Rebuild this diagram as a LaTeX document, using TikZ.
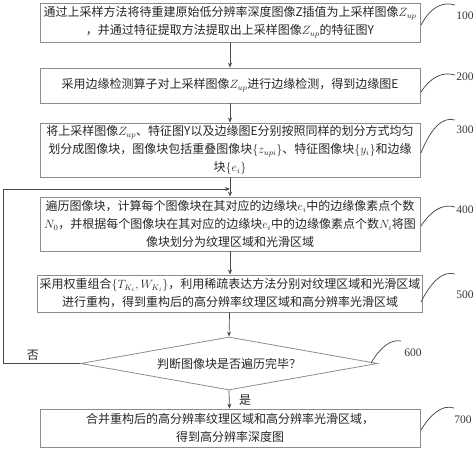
\documentclass[tikz,border=0pt]{standalone}
\usepackage{fontspec}
\setmainfont{Noto Sans CJK SC}
\newfontfamily\numfont{Liberation Serif}
\usetikzlibrary{shapes.geometric,arrows.meta}
\definecolor{boxgray}{HTML}{8C8C8C}
\definecolor{linegray}{HTML}{4A4A4A}
\begin{document}
\begin{tikzpicture}[x=1pt,y=-1pt,
  stepbox/.style={rectangle, draw=boxgray, line width=0.8pt, minimum width=380pt, inner sep=2pt, align=center, font=\fontsize{12}{18}\selectfont, text=black!85},
  judge/.style={diamond, draw=boxgray, line width=0.8pt, minimum width=297pt, minimum height=53pt, inner sep=0pt, aspect=5.6, font=\fontsize{12}{18}\selectfont, text=black!85},
  flow/.style={draw=linegray, line width=0.7pt, -{Stealth[length=5pt,width=4pt]}},
  leader/.style={draw=black!75, line width=0.7pt},
  num/.style={font=\numfont\fontsize{11.5}{13}\selectfont, text=black!80}]
\useasboundingbox (0,0) rectangle (474,449);
\node[stepbox, minimum height=39pt] (s100) at (230,22.5){通过上采样方法将待重建原始低分辨率深度图像Z插值为上采样图像$Z_{up}$\\，并通过特征提取方法提取出上采样图像$Z_{up}$的特征图Y};
\node[stepbox, minimum height=35pt] (s200) at (230,85.5){采用边缘检测算子对上采样图像$Z_{up}$进行边缘检测，得到边缘图E};
\node[stepbox, minimum height=54pt] (s300) at (230,150){将上采样图像$Z_{up}$、特征图Y以及边缘图E分别按照同样的划分方式均匀\\划分成图像块，图像块包括重叠图像块$\{z_{upi}\}$、特征图像块$\{y_i\}$和边缘\\块$\{e_i\}$};
\node[stepbox, minimum height=54pt] (s400) at (230,224){遍历图像块，计算每个图像块在其对应的边缘块$e_i$中的边缘像素点个数\\$N_0$，并根据每个图像块在其对应的边缘块$e_i$中的边缘像素点个数$N_i$将图\\像块划分为纹理区域和光滑区域};
\node[stepbox, minimum height=37pt] (s500) at (230,293.5){采用权重组合$\{T_{K_i},W_{K_i}\}$，利用稀疏表达方法分别对纹理区域和光滑区域\\进行重构，得到重构后的高分辨率纹理区域和高分辨率光滑区域};
\node[judge] (s600) at (229,363.5){判断图像块是否遍历完毕？};
\node[stepbox, minimum height=38pt] (s700) at (230,428){合并重构后的高分辨率纹理区域和高分辨率光滑区域，\\得到高分辨率深度图};
\coordinate (back) at (230,189);
\draw[flow] (s100) -- (s200);
\draw[flow] (s200) -- (s300);
\draw[flow] (s300) -- (s400);
\draw[flow] (s400) -- (s500);
\draw[flow] (s500) -- (s600.north);
\draw[flow] (s600.south) -- (s700);
\draw[flow] (s600.west) -- ++(-77,0) |- (back);
\node[font=\fontsize{12}{13}\selectfont, text=black!85] (no) at (33,355){否};
\node[font=\fontsize{12}{13}\selectfont, text=black!85] (yes) at (245,400){是};
\node[num] (n100) at (465,16){100};
\node[num] (n200) at (465,77){200};
\node[num] (n300) at (465,130){300};
\node[num] (n400) at (465,210){400};
\node[num] (n500) at (465,295){500};
\node[num] (n600) at (413,353){600};
\node[num] (n700) at (463,420){700};
\draw[leader] (421,25) .. controls (430,8) and (442,1) .. (455,5);
\draw[leader] (421,92) .. controls (430,78) and (442,71) .. (455,75);
\draw[leader] (421,153) .. controls (430,130) and (442,116) .. (455,120);
\draw[leader] (421,226) .. controls (430,212) and (442,203) .. (455,207);
\draw[leader] (421,302) .. controls (430,284) and (442,270) .. (455,274);
\draw[leader] (371,363) .. controls (380,348) and (390,339) .. (401,341);
\draw[leader] (421,430) .. controls (430,415) and (442,404) .. (454,408);
\end{tikzpicture}
\end{document}
